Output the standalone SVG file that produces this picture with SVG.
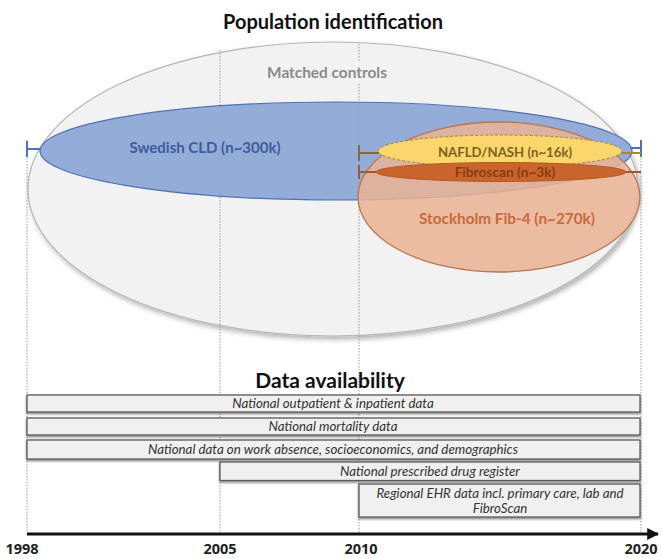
<svg xmlns="http://www.w3.org/2000/svg" width="662" height="559" viewBox="0 0 662 559">
<defs>
<style>
.title{font-family:Lato,"Open Sans",sans-serif;font-weight:bold;font-size:20px;fill:#111;text-anchor:middle}
.bar{fill:#f0f0f0;stroke:#5a5a5a;stroke-width:1.3}
.bt{font-family:Lato,"Open Sans",sans-serif;font-style:italic;font-size:13.3px;fill:#333;text-anchor:middle}
.yr{font-family:"Open Sans",Lato,sans-serif;font-weight:bold;font-size:14.5px;fill:#222;text-anchor:middle}
.grid{stroke:#9a9a9a;stroke-width:1;stroke-dasharray:1.5 1.5;fill:none}
.wh{stroke-width:2;fill:none}
.el{font-family:Lato,"Open Sans",sans-serif;font-weight:bold;text-anchor:middle}
</style>
<filter id="sh" x="-10%" y="-10%" width="125%" height="130%">
<feDropShadow dx="2" dy="3" stdDeviation="2.5" flood-color="#000" flood-opacity="0.3"/>
</filter>
<filter id="sb" x="-5%" y="-20%" width="110%" height="160%">
<feDropShadow dx="0" dy="1.5" stdDeviation="0.8" flood-color="#000" flood-opacity="0.5"/>
</filter>
<marker id="arr" viewBox="0 0 10 10" refX="9" refY="5" markerWidth="4" markerHeight="4" orient="auto" markerUnits="strokeWidth">
<path d="M0,0 L10,5 L0,10 z" fill="#111"/>
</marker>
</defs>
<rect width="662" height="559" fill="#fff"/>

<text class="title" x="333" y="29">Population identification</text>

<g id="matched-controls">
<ellipse cx="333" cy="189" rx="305" ry="147" fill="#f2f2f2" stroke="#b5b5b5" stroke-width="1.2" filter="url(#sh)"/>
<text class="el" x="327" y="78" style="font-size:15.4px;fill:#8a8a8a">Matched controls</text>
</g>

<g id="gridlines">
<line class="grid" x1="27" y1="140" x2="27" y2="534"/>
<line class="grid" x1="220" y1="50" x2="220" y2="534"/>
<line class="grid" x1="359" y1="44" x2="359" y2="62"/>
<line class="grid" x1="359" y1="84" x2="359" y2="534"/>
<line class="grid" x1="641" y1="140" x2="641" y2="534"/>
</g>

<g id="swedish-cld">
<ellipse cx="336" cy="151" rx="296" ry="49" fill="#8ea8d6" fill-opacity="0.95" stroke="#4e72b4" stroke-width="1.2"/>
<path class="wh" d="M27,141 V157 M27,149 H41" stroke="#4e72b4"/>
<path class="wh" d="M630,148 H641 M641,140 V157" stroke="#4e72b4"/>
<text class="el" x="205" y="153" style="font-size:15px;fill:#3d5c9c">Swedish CLD (n~300k)</text>
</g>

<g id="stockholm-fib4">
<ellipse cx="499" cy="197" rx="141" ry="75" fill="#eab394" fill-opacity="0.85" stroke="#b8764e" stroke-width="1.3"/>
<text class="el" x="507" y="224" style="font-size:15.3px;fill:#c86a3c">Stockholm Fib-4 (n~270k)</text>
</g>

<g id="nafld-nash">
<ellipse cx="500" cy="151" rx="122" ry="16" fill="#fbd66c" stroke="#9c8540" stroke-width="1" stroke-dasharray="3 2"/>
<path class="wh" d="M359,145 V161 M359,153 H379" stroke="#8a6a3a"/>
<path class="wh" d="M621,153 H641" stroke="#a88a38"/>
<text class="el" x="505" y="157" style="font-size:13.2px;fill:#7a6220">NAFLD/NASH (n~16k)</text>
</g>

<g id="fibroscan">
<ellipse cx="501" cy="172" rx="125" ry="9.5" fill="#c8642c" stroke="#b05a28" stroke-width="1"/>
<path class="wh" d="M359,165 V179 M359,172 H376" stroke="#a8552a"/>
<path class="wh" d="M626,172 H641" stroke="#a8552a"/>
<text class="el" x="505" y="177" style="font-size:13.7px;fill:#8a3c14">Fibroscan (n~3k)</text>
</g>

<text class="title" x="330" y="388" style="font-size:21px">Data availability</text>

<g id="bar-outpatient">
<rect class="bar" x="27" y="395" width="613" height="17" filter="url(#sb)"/>
<text class="bt" x="333" y="408">National outpatient &amp; inpatient data</text>
</g>
<g id="bar-mortality">
<rect class="bar" x="27" y="418" width="613" height="17" filter="url(#sb)"/>
<text class="bt" x="333" y="431">National mortality data</text>
</g>
<g id="bar-work">
<rect class="bar" x="27" y="440" width="613" height="19" filter="url(#sb)"/>
<text class="bt" x="333" y="454">National data on work absence,  socioeconomics, and demographics</text>
</g>
<g id="bar-drug">
<rect class="bar" x="220" y="462" width="420" height="18.5" filter="url(#sb)"/>
<text class="bt" x="430" y="476">National prescribed  drug register</text>
</g>
<g id="bar-ehr">
<rect class="bar" x="359" y="484" width="281" height="33" filter="url(#sb)"/>
<text class="bt" x="500" y="498">Regional EHR data incl. primary care, lab and</text>
<text class="bt" x="500" y="513">FibroScan</text>
</g>

<g id="axis">
<line x1="27" y1="534" x2="658" y2="534" stroke="#111" stroke-width="3" marker-end="url(#arr)"/>
</g>

<g id="years">
<text class="yr" x="22" y="554">1998</text>
<text class="yr" x="220" y="554">2005</text>
<text class="yr" x="361" y="554">2010</text>
<text class="yr" x="641" y="554">2020</text>
</g>
</svg>
